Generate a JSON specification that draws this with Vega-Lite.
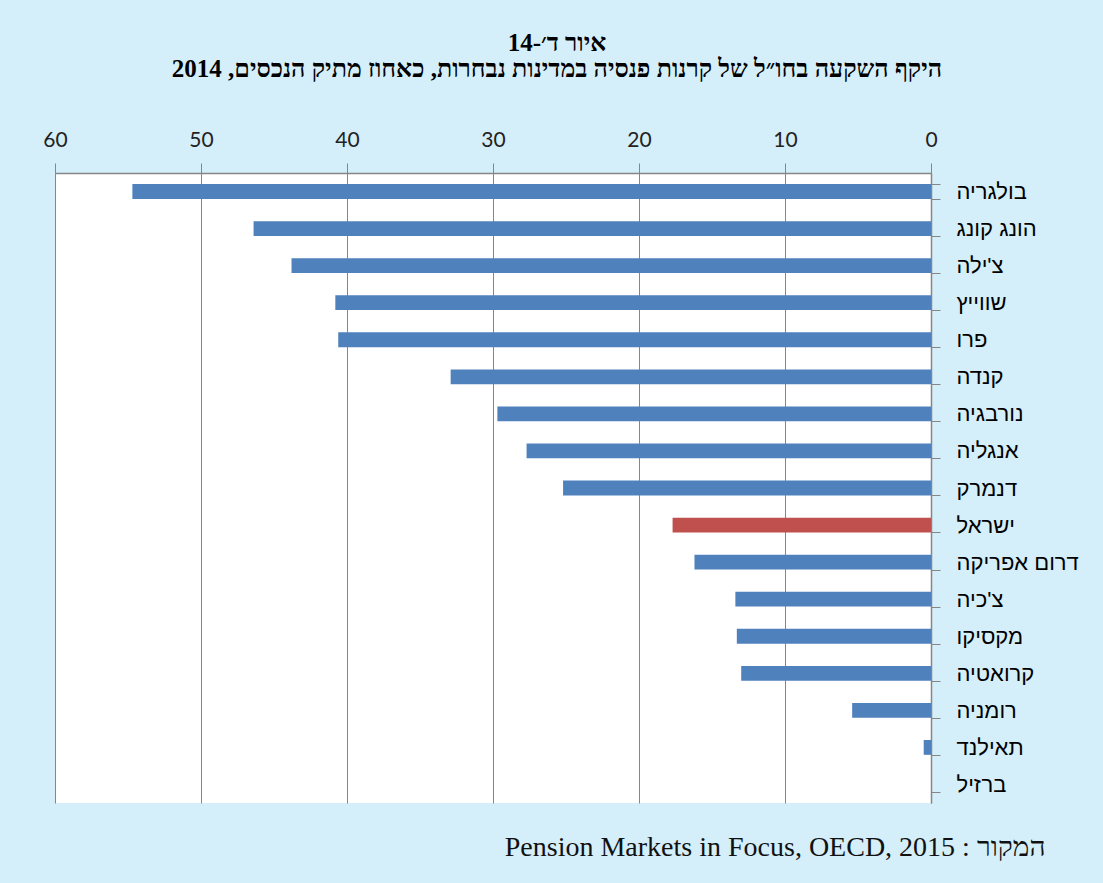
{
  "$schema": "https://vega.github.io/schema/vega-lite/v6.json",
  "width": 876,
  "height": 630,
  "autosize": {"type": "none"},
  "padding": {"left": 55, "top": 173, "right": 172, "bottom": 80},
  "background": "#D4EEFA",
  "config": {
    "view": {"stroke": null, "fill": "white"},
    "axis": {"domainColor": "#868686", "tickColor": "#868686", "gridColor": "#868686", "labelColor": "#222222"}
  },
  "title": {
    "text": ["איור ד׳-14", "היקף השקעה בחו״ל של קרנות פנסיה במדינות נבחרות, כאחוז מתיק הנכסים, 2014"],
    "font": "Liberation Serif",
    "fontSize": 25,
    "fontWeight": "bold",
    "color": "black",
    "anchor": "middle",
    "dx": 64,
    "offset": 47,
    "lineHeight": 26
  },
  "data": {
    "values": [
      {"country": "בולגריה", "value": 54.7, "group": "other"},
      {"country": "הונג קונג", "value": 46.4, "group": "other"},
      {"country": "צ'ילה", "value": 43.8, "group": "other"},
      {"country": "שווייץ", "value": 40.8, "group": "other"},
      {"country": "פרו", "value": 40.6, "group": "other"},
      {"country": "קנדה", "value": 32.9, "group": "other"},
      {"country": "נורבגיה", "value": 29.7, "group": "other"},
      {"country": "אנגליה", "value": 27.7, "group": "other"},
      {"country": "דנמרק", "value": 25.2, "group": "other"},
      {"country": "ישראל", "value": 17.7, "group": "israel"},
      {"country": "דרום אפריקה", "value": 16.2, "group": "other"},
      {"country": "צ'כיה", "value": 13.4, "group": "other"},
      {"country": "מקסיקו", "value": 13.3, "group": "other"},
      {"country": "קרואטיה", "value": 13.0, "group": "other"},
      {"country": "רומניה", "value": 5.4, "group": "other"},
      {"country": "תאילנד", "value": 0.5, "group": "other"},
      {"country": "ברזיל", "value": 0, "group": "other"}
    ]
  },
  "layer": [
    {
      "mark": {"type": "bar"},
      "encoding": {
        "y": {
          "field": "country",
          "type": "nominal",
          "sort": null,
          "scale": {"paddingInner": 0.6, "paddingOuter": 0.3},
          "axis": {
            "orient": "right",
            "title": null,
            "tickBand": "extent",
            "tickSize": 9,
            "labelPadding": 16,
            "labelFont": "Liberation Sans",
            "labelFontSize": 22,
            "labelAlign": "left",
            "labelColor": "black",
            "domainWidth": 1.5
          }
        },
        "x": {
          "field": "value",
          "type": "quantitative",
          "scale": {"domain": [0, 60], "reverse": true, "nice": false},
          "axis": {
            "orient": "top",
            "title": null,
            "values": [0, 10, 20, 30, 40, 50, 60],
            "tickSize": 10,
            "labelPadding": 13,
            "labelFlush": false,
            "labelFont": "Lato",
            "labelFontSize": 21,
            "labelColor": "#222222",
            "grid": true,
            "gridWidth": 1,
            "domainWidth": 1.5
          }
        },
        "color": {
          "field": "group",
          "type": "nominal",
          "scale": {"domain": ["other", "israel"], "range": ["#4F81BD", "#C0504D"]},
          "legend": null
        }
      }
    },
    {
      "mark": {"type": "rule", "opacity": 0},
      "encoding": {
        "x": {
          "field": "value",
          "type": "quantitative",
          "axis": {
            "orient": "bottom",
            "title": "Pension Markets in Focus, OECD, 2015 : המקור",
            "labels": false,
            "ticks": false,
            "domain": false,
            "grid": false,
            "titleFont": "Liberation Serif",
            "titleFontSize": 28,
            "titleFontWeight": "normal",
            "titleColor": "#111111",
            "titleAlign": "right",
            "titleAnchor": null,
            "titleX": 990,
            "titleY": 52,
            "titleBaseline": "alphabetic"
          }
        }
      }
    }
  ],
  "resolve": {"axis": {"x": "independent"}}
}
